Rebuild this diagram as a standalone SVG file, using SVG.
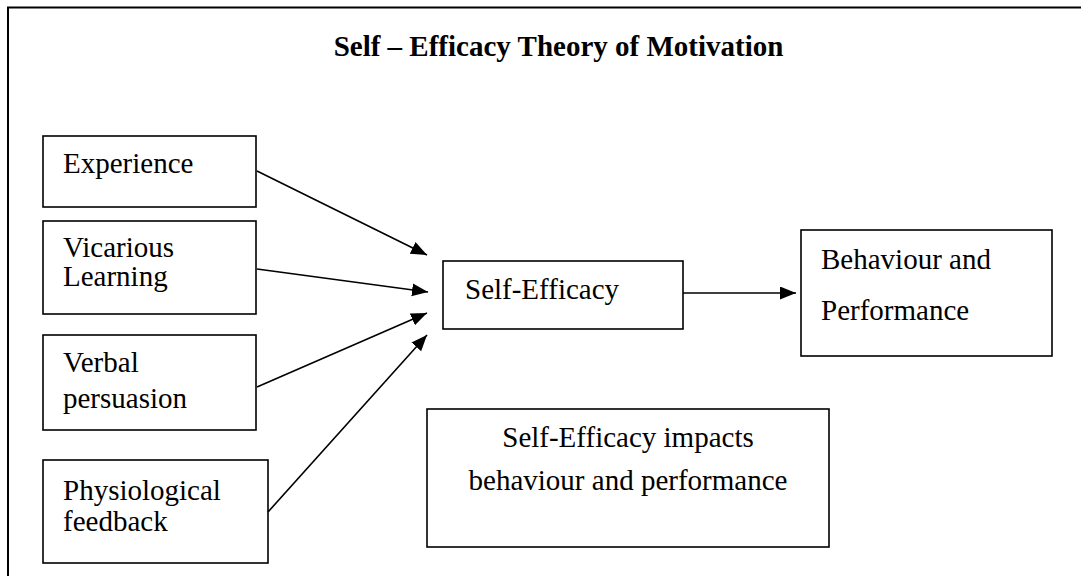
<svg xmlns="http://www.w3.org/2000/svg" width="1081" height="576" viewBox="0 0 1081 576">
<style>
.box{fill:#fff;stroke:#000;stroke-width:1.6}
.t{font-family:"Liberation Serif","Times New Roman",serif;font-size:29px;fill:#000}
.title{font-family:"Liberation Serif","Times New Roman",serif;font-size:29px;font-weight:bold;fill:#000}
.c{stroke:#000;stroke-width:1.6;fill:none}
</style>
<defs>
<marker id="ah" markerUnits="userSpaceOnUse" markerWidth="17" markerHeight="14" refX="16" refY="6.5" orient="auto">
<path d="M0,0 L16,6.5 L0,13 z" fill="#000"/>
</marker>
</defs>
<rect width="1081" height="576" fill="#fff"/>
<g id="frame">
<path d="M8,576 L8,7.5 L1081,7.5" fill="none" stroke="#000" stroke-width="2"/>
</g>
<text class="title" x="558.5" y="56" text-anchor="middle">Self – Efficacy Theory of Motivation</text>
<g id="experience">
<rect class="box" x="43" y="136" width="213" height="71"/>
<text class="t" x="63" y="173">Experience</text>
</g>
<g id="vicarious">
<rect class="box" x="43" y="221" width="213" height="93"/>
<text class="t" x="63" y="257">Vicarious</text>
<text class="t" x="63" y="286">Learning</text>
</g>
<g id="verbal">
<rect class="box" x="43" y="335" width="213" height="95"/>
<text class="t" x="63" y="372">Verbal</text>
<text class="t" x="63" y="408">persuasion</text>
</g>
<g id="physiological">
<rect class="box" x="43" y="460" width="225" height="103"/>
<text class="t" x="63" y="500">Physiological</text>
<text class="t" x="63" y="531">feedback</text>
</g>
<g id="selfefficacy">
<rect class="box" x="443" y="261" width="240" height="68"/>
<text class="t" x="465" y="299">Self-Efficacy</text>
</g>
<g id="behaviour">
<rect class="box" x="801" y="230" width="251" height="126"/>
<text class="t" x="821" y="269">Behaviour and</text>
<text class="t" x="821" y="320">Performance</text>
</g>
<g id="impacts">
<rect class="box" x="427" y="409" width="402" height="138"/>
<text class="t" x="628" y="447" text-anchor="middle">Self-Efficacy impacts</text>
<text class="t" x="628" y="490" text-anchor="middle">behaviour and performance</text>
</g>
<g id="connectors">
<line class="c" x1="257" y1="171" x2="427" y2="255" marker-end="url(#ah)"/>
<line class="c" x1="257" y1="269" x2="428" y2="292" marker-end="url(#ah)"/>
<line class="c" x1="257" y1="387" x2="427" y2="313" marker-end="url(#ah)"/>
<line class="c" x1="268" y1="512" x2="427" y2="335" marker-end="url(#ah)"/>
<line class="c" x1="683" y1="293" x2="796" y2="293" marker-end="url(#ah)"/>
</g>
</svg>
